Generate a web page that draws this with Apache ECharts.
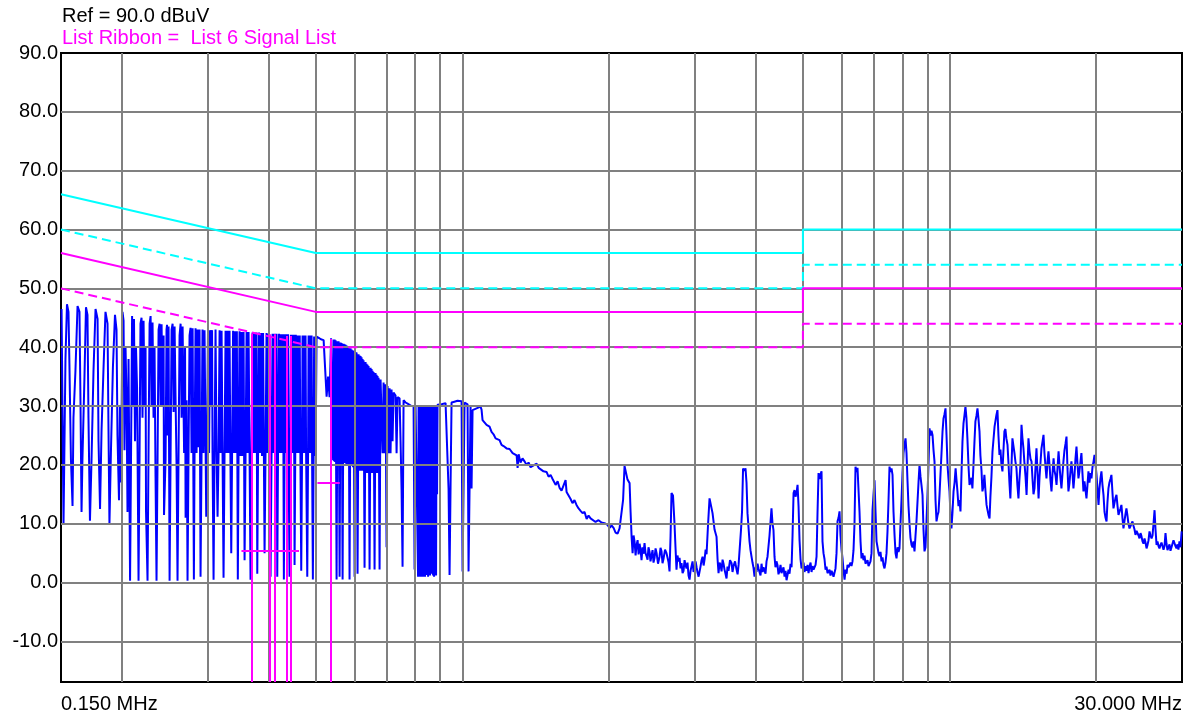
<!DOCTYPE html>
<html><head><meta charset="utf-8">
<script src="https://cdn.jsdelivr.net/npm/echarts@6/dist/echarts.min.js"></script>
<style>html,body{margin:0;padding:0;background:#fff}#c{width:1192px;height:720px}</style>
</head><body><div id="c"></div>
<script>
// ---- axis / tick data ----
const yTicks = [-10, 0, 10, 20, 30, 40, 50, 60, 70, 80, 90];
const xGridFreqs = [0.2,0.3,0.4,0.5,0.6,0.7,0.8,0.9,1,2,3,4,5,6,7,8,9,10,20];
const xRange = [0.15, 30];
const yRange = [-16.9, 90];

// ---- limit lines (MHz, dBuV) ----
const limitFreq = [0.15, 0.5, 5, 5, 30];
const qpLimitCyan = [66, 56, 56, 60, 60];
const avLimitCyan = [60, 50, 50, 54, 54];
const qpLimitMag = [56, 46, 46, 50, 50];
const avLimitMag = [50, 40, 40, 44, 44];

// ---- signal list ribbon markers ----
const markerFreq = [0.370, 0.403, 0.411, 0.435, 0.444, 0.538];
const markerLevel = [42.3, 42.2, 42.2, 41.9, 41.9, 41.4];
const ribbonSegs = [[0.352, 0.462, 5.4], [0.504, 0.560, 16.9]];

// ---- measured trace (MHz, dBuV) ----
const traceComb1 = [[0.1504,46.5],[0.1511,28.5],[0.1518,10],[0.1532,38],[0.1543,47.3],[0.1554,46],[0.1561,37],[0.1572,21],[0.1584,13],[0.1591,28],[0.1606,36],[0.1622,47],[0.1637,46],[0.1645,30],[0.1653,12],[0.1660,21],[0.1676,35],[0.1688,46.8],[0.1700,45.5],[0.1708,28],[0.1720,10.5],[0.1733,21],[0.1749,36],[0.1766,46.5],[0.1783,44.8],[0.1791,24],[0.1804,12.5],[0.1817,26],[0.1834,36.5],[0.1851,46],[0.1869,44],[0.1877,27],[0.1886,10],[0.1899,22],[0.1917,36.5],[0.1936,45.5],[0.1950,43],[0.1959,25],[0.1973,14],[0.1982,30],[0.1992,17],[0.2006,46]];
const traceComb2 = [[0.2016,44.5],[0.2025,22.5],[0.2035,40],[0.2045,31],[0.2054,12],[0.2064,38],[0.2079,0.3],[0.2089,22.5],[0.2099,45.3],[0.2108,30],[0.2118,44.8],[0.2128,24],[0.2138,40],[0.2149,33],[0.2164,0.3],[0.2174,21],[0.2184,44],[0.2195,45],[0.2205,28],[0.2216,44.5],[0.2226,30],[0.2237,40],[0.2242,12],[0.2258,0.3],[0.2269,23],[0.2280,44],[0.2291,45.3],[0.2301,30],[0.2312,44.2],[0.2323,28],[0.2334,40],[0.2345,18],[0.2356,0.3],[0.2368,22],[0.2379,43],[0.2390,44],[0.2401,30],[0.2413,43.9],[0.2424,30],[0.2436,42],[0.2441,11.5],[0.2459,21],[0.2470,43],[0.2476,43.8],[0.2482,25],[0.2494,43.5],[0.2506,0.3],[0.2518,22],[0.2530,43],[0.2542,44],[0.2554,29],[0.2566,43.5],[0.2578,31],[0.2590,20],[0.2602,0.3],[0.2615,23],[0.2627,42],[0.2640,44],[0.2652,28],[0.2665,43.5],[0.2684,22],[0.2696,40],[0.2703,11],[0.2716,31],[0.2728,0.3],[0.2741,22],[0.2754,42],[0.2767,43.3]];
const traceComb3 = [[0.2780,22],[0.2794,43.2],[0.2811,0.5],[0.2820,22],[0.2833,43.2],[0.2847,22],[0.2860,43],[0.2874,23],[0.2887,43],[0.2901,1],[0.2915,22],[0.2928,43],[0.2942,22],[0.2956,42.9],[0.2980,11.2],[0.2991,22],[0.3005,43],[0.3020,22],[0.3034,42.9],[0.3048,30],[0.3063,42.9],[0.3070,22],[0.3085,0.5],[0.3099,22],[0.3114,43],[0.3129,22],[0.3144,11.2],[0.3159,22],[0.3174,42.9],[0.3189,22],[0.3204,42.8],[0.3219,21.5],[0.3234,0.8],[0.3249,21.5],[0.3265,42.8],[0.3280,22],[0.3296,42.8],[0.3311,22],[0.3327,42.8],[0.3340,22],[0.3354,5],[0.3367,21.5],[0.3383,42.8],[0.3399,22],[0.3415,42.7],[0.3431,22],[0.3444,42.7],[0.3460,0.5],[0.3472,22],[0.3488,42.7],[0.3505,21.5],[0.3521,42.6],[0.3538,21.5],[0.3555,42.6],[0.3572,3.8],[0.3589,22],[0.3606,42.6],[0.3623,22],[0.3640,42.6],[0.3657,22],[0.3674,0.5],[0.3692,22],[0.3709,42.5],[0.3727,22],[0.3744,42.5],[0.3762,22],[0.3780,42.5],[0.3793,1.5],[0.3807,22],[0.3825,42.5],[0.3843,22],[0.3861,42.4],[0.3879,21.5],[0.3898,42.4],[0.3926,5],[0.3944,22],[0.3963,42.4],[0.3982,22],[0.4001,42.3],[0.4020,22],[0.4039,1],[0.4058,22],[0.4077,42.3],[0.4096,22],[0.4116,42.3],[0.4135,22],[0.4155,42.3],[0.4169,1],[0.4184,22],[0.4204,42.3],[0.4224,22],[0.4244,42.2],[0.4264,22],[0.4284,42.2],[0.4301,0.5],[0.4315,22]];
const traceDense = [[0.4325,42.2],[0.4335,22],[0.4346,42.2],[0.4356,22],[0.4366,42.2],[0.4377,22],[0.4387,42.2],[0.4397,22.5],[0.4418,1],[0.4435,22],[0.4446,42.1],[0.4456,22],[0.4467,42.1],[0.4477,22],[0.4488,42.1],[0.4498,22],[0.4509,42.1],[0.4524,3],[0.4539,22],[0.4550,42.1],[0.4560,22],[0.4571,42],[0.4582,22],[0.4593,42],[0.4604,22],[0.4615,42],[0.4625,22],[0.4636,42],[0.4650,22],[0.4669,2],[0.4687,22],[0.4698,42],[0.4709,22],[0.4720,42],[0.4731,22],[0.4743,42],[0.4754,22],[0.4765,42],[0.4777,22.5],[0.4804,1],[0.4822,22],[0.4834,42],[0.4845,22],[0.4857,42],[0.4868,22],[0.4880,42],[0.4891,22],[0.4903,42],[0.4914,22],[0.4933,0.5],[0.4950,21.5],[0.4962,41.8],[0.4973,21.5],[0.4985,41.8]];
const traceRolloff = [[0.4997,21.5],[0.5020,41.8],[0.5056,41.6],[0.5092,41.5],[0.5141,41.3],[0.5190,41.2],[0.5227,41],[0.5264,31.6],[0.5300,35],[0.5338,31.5],[0.5376,41.5],[0.5415,41.4],[0.5427,20.8],[0.5440,41.3],[0.5453,20.6],[0.5466,41.3],[0.5479,20.5],[0.5492,41.2],[0.5518,0.5],[0.5531,20.5],[0.5544,41],[0.5557,20.5],[0.5570,41],[0.5597,1],[0.5610,20.4],[0.5623,40.8],[0.5637,20.3],[0.5650,40.7],[0.5677,0.5],[0.5690,20.3],[0.5704,40.6],[0.5717,20.3],[0.5731,40.5],[0.5744,20.5],[0.5758,40.4],[0.5771,20.2],[0.5785,40.3],[0.5799,20],[0.5812,40.1],[0.5826,20],[0.5840,40],[0.5867,0.5],[0.5881,20],[0.5895,39.8],[0.5909,19.8],[0.5923,39.6],[0.5937,19.8],[0.5951,39.5],[0.5965,19.6],[0.5979,39.4],[0.6008,1],[0.6022,19.5],[0.6036,39.2],[0.6050,19.5],[0.6065,39.1],[0.6093,1.5],[0.6108,19.5],[0.6122,38.8],[0.6137,19.2],[0.6151,38.6],[0.6165,19],[0.6180,38.5],[0.6195,19],[0.6209,38.3],[0.6224,19],[0.6239,38],[0.6253,19],[0.6268,37.8],[0.6298,2.5],[0.6313,18.8],[0.6328,37.5],[0.6343,18.7],[0.6358,37.2],[0.6373,18.6],[0.6388,37],[0.6403,18.6],[0.6418,36.8],[0.6449,2.2],[0.6464,18.6],[0.6479,36.5],[0.6495,18.6],[0.6510,36.3],[0.6526,18.6],[0.6541,36],[0.6556,18.6],[0.6572,35.8],[0.6603,2.2],[0.6618,18.6],[0.6634,35.6],[0.6650,18.6],[0.6666,35.3],[0.6682,18.6],[0.6697,35.1],[0.6713,18.6],[0.6729,34.8],[0.6761,2.2],[0.6777,19],[0.6793,34.5],[0.6825,34.3],[0.6858,22],[0.6890,34],[0.6922,22],[0.6955,33.7],[0.6988,6],[0.7021,33.4],[0.7055,22],[0.7088,33],[0.7121,22],[0.7155,32.8],[0.7189,24],[0.7223,32.3],[0.7292,31.8],[0.7327,22],[0.7361,31.5],[0.7431,31.3],[0.7466,24],[0.7502,15.7],[0.7537,2.7],[0.7573,31],[0.7645,30.6],[0.7718,30.4],[0.7791,30.2],[0.7865,30],[0.7940,30],[0.7977,2.2],[0.8015,29.9],[0.8091,29.9],[0.8110,1],[0.8129,29.9],[0.8149,1.2],[0.8168,29.9],[0.8188,1],[0.8207,29.9],[0.8227,1],[0.8246,29.9],[0.8266,1.2],[0.8285,29.9],[0.8305,1],[0.8324,29.9],[0.8344,1.5],[0.8363,29.9],[0.8383,1],[0.8403,29.9],[0.8423,1.3],[0.8443,29.9],[0.8463,1.5],[0.8483,29.9],[0.8503,1],[0.8523,29.9],[0.8543,1.2],[0.8563,30],[0.8584,1.2],[0.8604,30],[0.8624,1.5],[0.8645,30],[0.8665,1.5],[0.8686,30],[0.8706,1.2],[0.8727,30.1],[0.8748,1],[0.8768,30.1],[0.8789,1.2],[0.8810,30.1],[0.8830,1.2],[0.8851,30.1],[0.8872,15],[0.8893,30.2],[0.8977,30.2],[0.9063,30.3],[0.9149,30.4],[0.9236,30.5],[0.9323,30.5],[0.9367,16],[0.9412,1.3],[0.9456,16.3],[0.9501,30.6],[0.9592,30.7],[0.9683,30.8],[0.9775,30.9],[0.9867,30.9],[0.9961,30.8],[1.0008,1.9],[1.0056,16],[1.0103,30.6],[1.0151,30.5],[1.0248,30.3],[1.0296,1.9],[1.0345,16],[1.0394,30],[1.0443,16],[1.0493,29.3],[1.0592,29.5],[1.0693,29.6],[1.0794,29.8],[1.0896,29.9]];
const traceSlope = [[1.0948,29.4],[1.1000,27.6],[1.1104,27.9],[1.1210,26.8],[1.1370,26.5],[1.1478,25.6],[1.1587,25.2],[1.1698,24.5],[1.1809,24.3],[1.1920,24.2],[1.2033,23.4],[1.2148,23.2],[1.2322,22.8],[1.2500,22.7],[1.2679,22.0],[1.2799,22.2],[1.2922,21.6],[1.2983,19.5],[1.3045,21.8],[1.3162,20.4],[1.3287,21.1],[1.3413,20.6],[1.3541,20.0],[1.3670,20.4],[1.3805,19.6],[1.4001,19.9],[1.4203,20.2],[1.4339,19.5],[1.4468,19.3],[1.4674,18.9],[1.4885,18.8],[1.5028,18.0],[1.5172,18.3],[1.5316,17.6],[1.5537,16.6],[1.5684,17.2],[1.5830,16.1],[1.5980,15.6],[1.6132,16.5],[1.6286,17.4],[1.6363,15.4],[1.6519,14.8],[1.6677,14.2],[1.6826,13.5],[1.6986,14.0],[1.7149,13.2],[1.7318,12.6],[1.7482,12.2],[1.7649,11.8],[1.7817,12.0],[1.7990,10.8],[1.8154,11.4],[1.8326,10.9],[1.8500,11.0],[1.8765,10.3],[1.9030,10.6],[1.9302,10.2],[1.9578,10.1],[1.9857,9.8],[2.005,9.3],[2.0241,9.7],[2.0433,9.3],[2.0627,8.5],[2.0823,8.3],[2.102,9.2],[2.1219,9.4]];
const traceFloor = [[2.1371,14],[2.1520,19.8],[2.1673,19.6],[2.1825,17.5],[2.204,16.9],[2.2144,12],[2.2249,7.8],[2.2355,5.0],[2.2461,8.0],[2.2568,6.9],[2.2674,4.6],[2.2780,6.4],[2.2890,7.2],[2.2999,4.8],[2.3105,6.6],[2.3210,5.6],[2.3320,3.8],[2.3431,6.0],[2.3540,4.9],[2.3653,6.7],[2.3765,5.0],[2.3879,4.5],[2.3992,3.9],[2.410,6.0],[2.422,5.2],[2.433,3.6],[2.445,4.6],[2.4567,5.5],[2.468,3.4],[2.480,4.2],[2.492,5.8],[2.504,5.0],[2.521,3.2],[2.539,4.4],[2.551,5.9],[2.563,5.3],[2.575,3.3],[2.587,4.0],[2.606,5.6],[2.624,5.0],[2.649,3.5],[2.662,1.9],[2.675,8],[2.687,15.2],[2.706,14.8],[2.725,10.1],[2.738,6.0],[2.751,2.2],[2.764,4.6],[2.777,3.6],[2.791,4.2],[2.804,2.4],[2.817,3.3],[2.831,1.6],[2.844,2.0],[2.858,3.8],[2.871,3.0],[2.885,2.4],[2.898,3.4],[2.912,1.2],[2.926,0.5],[2.940,2.0],[2.954,2.8],[2.968,3.6],[2.982,1.8],[2.996,2.4],[3.011,3.6],[3.025,2.6],[3.039,1.7],[3.054,1.0],[3.068,1.3],[3.083,2.8],[3.097,3.8],[3.112,4.4],[3.127,2.9],[3.142,4.0],[3.157,5.6],[3.171,4.8],[3.194,10],[3.216,14.3],[3.239,14.0],[3.262,11.8],[3.293,9],[3.324,7.8],[3.340,4],[3.356,1.6],[3.372,3.4],[3.388,3.0],[3.404,1.9],[3.420,3.9],[3.436,3.2],[3.452,2.2],[3.468,1.5],[3.485,0.7],[3.501,2.7],[3.518,2.0],[3.543,3.8],[3.569,3.3],[3.585,1.8],[3.602,2.8],[3.628,3.6],[3.654,2.2],[3.672,1.4],[3.689,3.0],[3.706,2.7],[3.732,9],[3.750,12.1],[3.768,19.4],[3.790,19.0],[3.812,19.4],[3.830,17],[3.848,11.8],[3.885,7],[3.903,5.5],[3.922,4.4],[3.940,3.4],[3.959,2.5],[3.978,1.0],[3.997,2.6],[4.016,1.8],[4.035,3.2],[4.054,2.4],[4.073,2.2],[4.092,1.2],[4.112,3.2],[4.131,1.8],[4.151,2.6],[4.170,2.7],[4.190,1.5],[4.210,3.6],[4.230,4.4],[4.270,8],[4.310,12.6],[4.331,10],[4.351,8.9],[4.372,4.4],[4.392,2.6],[4.413,3.6],[4.434,3.0],[4.455,1.4],[4.477,2.0],[4.498,3.0],[4.519,1.6],[4.541,1.6],[4.562,2.6],[4.584,1.0],[4.606,2.0],[4.628,0.4],[4.650,0.2],[4.672,2.2],[4.694,1.5],[4.716,3.2],[4.739,2.6],[4.761,8],[4.784,15.2],[4.806,15.7],[4.829,14.6],[4.852,15.3],[4.875,16.6],[4.898,13],[4.921,7.2],[4.944,4],[4.968,2.4],[4.992,2.2],[5.015,3.4],[5.039,1.8],[5.063,2.8],[5.087,2.0],[5.111,3.0],[5.135,1.6],[5.159,2.7],[5.184,3.4],[5.208,1.8],[5.233,2.8],[5.258,2.2],[5.282,2.0],[5.308,3.0],[5.333,4.4],[5.358,12]];
const traceHump = [[5.383,18.6],[5.408,17.6],[5.434,18.4],[5.460,18.9],[5.485,7],[5.511,5.0],[5.537,4.0],[5.564,2.2],[5.590,2.7],[5.617,1.6],[5.644,1.5],[5.670,2.2],[5.697,1.2],[5.724,2.0],[5.751,1.6],[5.779,1.0],[5.806,0.8],[5.833,2.4],[5.861,5],[5.889,10.4],[5.917,11],[5.945,12.1],[5.973,8],[6.001,5.6],[6.030,4.1],[6.059,2.0],[6.088,0.5],[6.117,2.2],[6.146,1.5],[6.174,3.0],[6.203,2.6],[6.232,2.4],[6.261,3.4],[6.291,2.8],[6.321,3.6],[6.351,5.5],[6.381,10],[6.411,19.7],[6.441,18.8],[6.472,19.5],[6.503,19.4],[6.534,12],[6.565,7],[6.596,4.1],[6.627,5.0],[6.658,3.8],[6.690,4.6],[6.721,3.2],[6.753,3.0],[6.786,3.8],[6.818,2.8],[6.850,2.7],[6.882,3.6],[6.915,5],[6.948,12.3],[6.981,15],[7.014,17.4],[7.048,12],[7.081,7.0],[7.115,6.0],[7.148,5],[7.181,4.5],[7.215,5.2],[7.250,3.6],[7.284,4.3],[7.318,3.0],[7.353,2.4],[7.388,3.4],[7.423,5],[7.458,8.7],[7.494,14],[7.529,19.7],[7.565,18.8],[7.601,19.4],[7.637,18.3],[7.673,12],[7.710,8.1],[7.746,5],[7.783,4.1],[7.820,6.0],[7.856,5.2],[7.893,5.8],[7.930,10],[7.968,14],[8.006,18.6],[8.044,22],[8.082,23.4],[8.121,24.5],[8.159,22],[8.198,17.2],[8.236,13],[8.275,10],[8.314,7.6],[8.354,6.4],[8.394,6],[8.433,7.0],[8.473,5.3],[8.514,8],[8.554,10.5],[8.595,13.8],[8.635,17],[8.676,20],[8.717,18],[8.758,16.5],[8.800,14.9],[8.841,9],[8.883,5.3],[8.925,6],[8.968,10.4],[9.010,15],[9.053,20],[9.096,26.2],[9.139,25.0],[9.182,25.8],[9.226,25.1],[9.270,22.5],[9.313,20.6],[9.358,14],[9.402,10.4],[9.446,11.4],[9.491,12],[9.536,14.9],[9.581,18.5],[9.627,22],[9.672,25.6],[9.718,27.9],[9.764,28.6],[9.810,29.6],[9.857,25.1],[9.903,20],[9.950,17.6],[9.997,15.5],[10.04,11.8],[10.09,9.2],[10.14,12],[10.19,15.5],[10.24,17.0],[10.29,19.4],[10.33,17.6],[10.38,15.5],[10.43,13.0],[10.48,14],[10.53,12.1],[10.58,18.6],[10.63,24],[10.68,27],[10.73,28.4],[10.78,29.9],[10.83,28],[10.88,24.5],[10.94,19.6],[10.99,16.6],[11.04,16.5],[11.09,17.8],[11.14,16],[11.20,20.2],[11.25,24],[11.30,27.4],[11.36,28.4],[11.41,29.6],[11.46,28],[11.52,25.7],[11.57,21.6],[11.63,19],[11.68,15.5],[11.74,16.4],[11.79,18.3],[11.85,15.6],[11.91,13.2],[11.96,12.4],[12.02,11.5],[12.08,10.9],[12.13,14.6],[12.19,18],[12.25,22.3],[12.31,24.4],[12.37,26.5],[12.43,27.6],[12.48,28.5],[12.54,29.3],[12.60,25.0],[12.66,21.7],[12.72,22.6],[12.78,20],[12.84,18.9],[12.90,22.4],[12.96,25.7],[13.02,26.1],[13.08,24.5],[13.15,23.4],[13.21,20.4],[13.27,17],[13.33,14.3],[13.39,19.0],[13.46,24.5],[13.52,23.3],[13.59,22],[13.65,20.6],[13.72,19.4],[13.78,16.6],[13.85,14.3],[13.91,17.4],[13.98,20],[14.05,26.8],[14.11,24.6],[14.18,22.8],[14.25,20.2],[14.32,18],[14.39,14.9],[14.46,20.0],[14.52,24.5],[14.59,22.4],[14.66,21],[14.73,20.6],[14.80,17.6],[14.87,15],[14.94,16],[15.01,19.6],[15.08,22.8],[15.16,18.4],[15.23,14.3],[15.30,18],[15.37,20.4],[15.44,22.8],[15.52,24.0],[15.59,25.1],[15.66,22],[15.74,19.6],[15.81,17.7],[15.89,20.6],[15.96,22.3],[16.04,20],[16.11,17.4],[16.19,15.5],[16.27,18.6],[16.35,21.1],[16.42,19],[16.50,18.2],[16.58,16.6],[16.66,19.6],[16.74,22.3],[16.81,20],[16.89,17.8],[16.97,16.0],[17.05,18.4],[17.13,20.6],[17.21,22.4],[17.30,23.6],[17.38,24.8],[17.46,19.4],[17.54,15.5],[17.63,17],[17.71,19.0],[17.79,20.6],[17.88,18.4],[17.96,16],[18.05,18.2],[18.13,21.0],[18.22,23.1],[18.30,20.4],[18.39,17.7],[18.48,19],[18.57,20.6],[18.65,22],[18.74,18.6],[18.83,15.5],[18.92,17.2],[19.01,15.8],[19.10,14.3],[19.19,16.6],[19.28,18.9],[19.37,17],[19.47,18.6],[19.56,17.7],[19.65,19.6],[19.75,20.6],[19.84,21.7],[19.94,20.0],[20.03,18.3],[20.13,15.6],[20.22,13.2],[20.31,16],[20.40,17.6],[20.50,18.9],[20.60,16.6],[20.70,14.9],[20.80,12],[20.90,11.0],[21.00,10.4],[21.09,13.6],[21.19,16],[21.29,17],[21.39,17.6],[21.49,18.3],[21.60,15.2],[21.70,12.6],[21.80,13.5],[21.91,14.4],[22.01,14.9],[22.12,13.0],[22.22,11.5],[22.32,12],[22.43,12.6],[22.53,13.2],[22.64,11.0],[22.75,9.2],[22.86,10.5],[22.96,11.6],[23.07,12.6],[23.18,11.4],[23.29,10],[23.41,9.2],[23.52,9.6],[23.63,10],[23.74,10.4],[23.86,9.6],[23.97,9],[24.08,8.1],[24.20,8.8],[24.31,8.5],[24.43,8.0],[24.54,7.5],[24.66,8.4],[24.77,7.9],[24.89,7.0],[25.01,6.6],[25.13,7.5],[25.25,6.8],[25.37,5.8],[25.49,6.4],[25.61,7.2],[25.73,8.7],[25.85,8.0],[25.98,7.5],[26.10,8],[26.22,10],[26.35,12.3],[26.47,9],[26.60,6.4],[26.72,7.0],[26.85,6.2],[26.97,5.8],[27.10,6.4],[27.23,6.8],[27.36,6.5],[27.49,5.6],[27.62,6.2],[27.75,8.4],[27.88,6.6],[28.01,5.5],[28.14,6.0],[28.28,6.5],[28.41,5.4],[28.55,6.0],[28.68,6.6],[28.82,7.2],[28.96,7.0],[29.09,6.2],[29.23,5.8],[29.37,6.5],[29.50,5.6],[29.64,7.0],[29.78,6.0],[29.95,8.7]];

// ---- build chart ----
const FONT = '"Liberation Sans", Arial, sans-serif';
const trace = [].concat(traceComb1, traceComb2, traceComb3, traceDense, traceRolloff, traceSlope, traceFloor, traceHump);
const pairs = (ys) => limitFreq.map((f, i) => [f, ys[i]]);
const isEnd = (v) => Math.abs(v - xRange[0]) < 1e-6 || Math.abs(v - xRange[1]) < 1e-6;

const gridLines = [].concat(
  xGridFreqs.map(f => ({ xAxis: f })),
  yTicks.filter(v => v > yRange[0] && v < yRange[1]).map(v => ({ yAxis: v }))
);
const markerLines = [].concat(
  markerFreq.map((f, i) => [{ coord: [f, yRange[0]] }, { coord: [f, markerLevel[i]] }]),
  ribbonSegs.map(s => [{ coord: [s[0], s[2]] }, { coord: [s[1], s[2]] }])
);

const limitSeries = (name, ys, color, dashed, extra) => Object.assign({
  name, type: 'line', data: pairs(ys), z: 4, symbol: 'none', showSymbol: false, silent: true,
  lineStyle: { color, width: 2, type: dashed ? [9, 5] : 'solid' }
}, extra || {});

const chart = echarts.init(document.getElementById('c'), null, { renderer: 'canvas' });
chart.setOption({
  animation: false,
  backgroundColor: '#ffffff',
  title: [
    { text: 'Ref = 90.0 dBuV', left: 62, top: 6, padding: 0,
      textStyle: { color: '#000000', fontSize: 20, fontWeight: 'normal', fontFamily: FONT } },
    { text: 'List Ribbon =  List 6 Signal List', left: 62, top: 28, padding: 0,
      textStyle: { color: '#ff00ff', fontSize: 20, fontWeight: 'normal', fontFamily: FONT } }
  ],
  grid: { left: 61, right: 10, top: 53, bottom: 38, show: true, borderColor: '#000000', borderWidth: 2, backgroundColor: '#ffffff' },
  xAxis: {
    type: 'log', logBase: 10, min: xRange[0], max: xRange[1],
    axisLine: { show: false }, axisTick: { show: false }, splitLine: { show: false },
    axisLabel: {
      showMinLabel: true, showMaxLabel: true, alignMinLabel: 'left', alignMaxLabel: 'right',
      formatter: v => isEnd(v) ? v.toFixed(3) + ' MHz' : '',
      margin: 12, fontSize: 20, color: '#000000', fontFamily: FONT
    }
  },
  yAxis: {
    type: 'value', min: yRange[0], max: yRange[1],
    axisLine: { show: false }, axisTick: { show: false }, splitLine: { show: false },
    axisLabel: { customValues: yTicks, formatter: v => v.toFixed(1), margin: 3, fontSize: 20, color: '#000000', fontFamily: FONT }
  },
  series: [
    {
      name: 'Trace', type: 'line', data: trace, z: 2, symbol: 'none', showSymbol: false, silent: true,
      lineStyle: { color: '#0000ff', width: 2 },
      markLine: { silent: true, z: 3, symbol: ['none', 'none'], label: { show: false },
        lineStyle: { color: '#808080', width: 2, type: 'solid' }, data: gridLines }
    },
    limitSeries('QP limit', qpLimitCyan, '#00ffff', false),
    limitSeries('AV limit', avLimitCyan, '#00ffff', true),
    limitSeries('QP limit 2', qpLimitMag, '#ff00ff', false,
      { markLine: { silent: true, z: 6, symbol: ['none', 'none'], label: { show: false },
        lineStyle: { color: '#ff00ff', width: 2, type: 'solid' }, data: markerLines } }),
    limitSeries('AV limit 2', avLimitMag, '#ff00ff', true)
  ]
});
</script>
</body></html>
